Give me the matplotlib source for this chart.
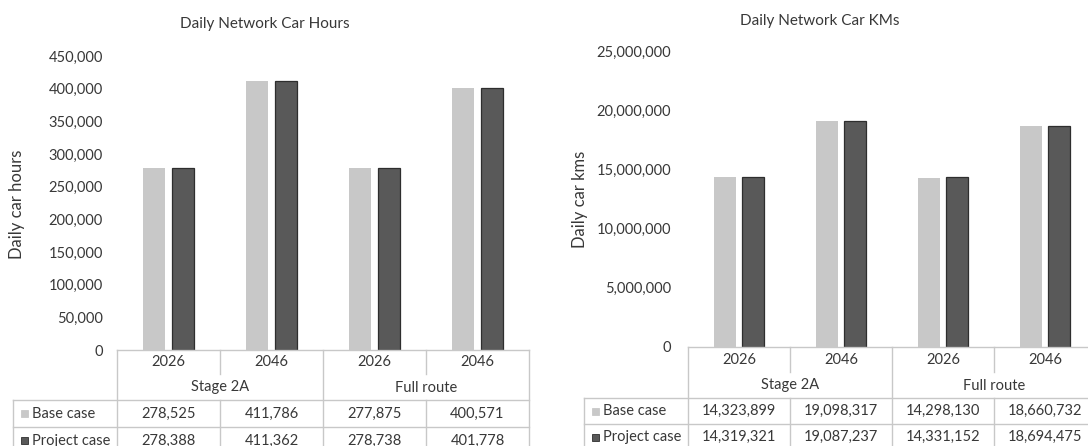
import matplotlib
matplotlib.use("Agg")
import matplotlib.pyplot as plt
from matplotlib import transforms
from matplotlib.patches import Rectangle
from matplotlib.ticker import FuncFormatter

# ---- data ----
groups = ["Stage 2A", "Full route"]
years = ["2026", "2046", "2026", "2046"]
series_names = ["Base case", "Project case"]

hours_base = [278525, 411786, 277875, 400571]
hours_project = [278388, 411362, 278738, 401778]
hours_ticks = [0, 50000, 100000, 150000, 200000, 250000, 300000, 350000, 400000, 450000]

kms_base = [14323899, 19098317, 14298130, 18660732]
kms_project = [14319321, 19087237, 14331152, 18694475]
kms_ticks = [0, 5000000, 10000000, 15000000, 20000000, 25000000]

# ---- style ----
W, H = 1088, 446
FONT = "Lato"
TXT = "#383838"
GRID = "#c8c8c8"
BASE_C = "#c8c8c8"
PROJ_C = "#595959"
PROJ_EDGE = "#2e2e2e"
FS = 10.5
FS_TITLE = 11
FS_YLABEL = 12

plt.rcParams["font.family"] = [FONT, "DejaVu Sans"]

fig = plt.figure(figsize=(W / 100, H / 100), dpi=100)


def fx(px):
    return px / W


def fy(py):
    return 1 - py / H


comma = FuncFormatter(lambda v, p: f"{int(round(v)):,}")


def panel(rect_px, base, proj, ticks, title, title_xy, ylabel, ylabel_xy,
          tick_pad_px, rows_px, label_left_px):
    left, top, right, bottom = rect_px
    ax = fig.add_axes([fx(left), fy(bottom), (right - left) / W, (bottom - top) / H])
    x = list(range(len(years)))
    off, bw = 0.138, 0.213
    ax.bar([i - off for i in x], base, width=bw, color=BASE_C, linewidth=0)
    ax.bar([i + off for i in x], proj, width=bw, color=PROJ_C,
           edgecolor=PROJ_EDGE, linewidth=0.9)
    ax.set_xlim(-0.5, len(years) - 0.5)
    ax.set_ylim(ticks[0], ticks[-1])
    ax.set_yticks(ticks)
    ax.yaxis.set_major_formatter(comma)
    ax.set_xticks([])
    ax.tick_params(axis="y", length=0, pad=tick_pad_px * 0.72, labelsize=FS,
                   labelcolor=TXT)
    for s in ax.spines.values():
        s.set_visible(False)

    fig.text(fx(title_xy[0]), fy(title_xy[1]), title, ha="center", va="center",
             fontsize=FS_TITLE, color=TXT)
    fig.text(fx(ylabel_xy[0]), fy(ylabel_xy[1]), ylabel, ha="center", va="center",
             rotation=90, fontsize=FS_YLABEL, color=TXT)

    # ---- data table under the plot ----
    y_top, y_year, y_group, y_base, y_end = rows_px
    bt = transforms.blended_transform_factory(ax.transData, fig.transFigure)
    lkw = dict(color=GRID, linewidth=1.0, clip_on=False)

    # horizontal rules
    fig.add_artist(plt.Line2D([fx(left), fx(right)], [fy(y_top)] * 2, **lkw))
    for yy in (y_group, y_base):
        fig.add_artist(plt.Line2D([fx(label_left_px), fx(right)], [fy(yy)] * 2, **lkw))
    # row-label column border
    fig.add_artist(plt.Line2D([fx(label_left_px)] * 2, [fy(y_group), fy(y_end)], **lkw))
    # group borders (full height)
    for xb in (-0.5, 1.5, 3.5):
        ax.add_line(plt.Line2D([xb, xb], [fy(y_top), fy(y_end)], transform=bt, **lkw))
    # year borders (year row and value rows only)
    for xb in (0.5, 2.5):
        ax.add_line(plt.Line2D([xb, xb], [fy(y_top), fy(y_year)], transform=bt, **lkw))
        ax.add_line(plt.Line2D([xb, xb], [fy(y_group), fy(y_end)], transform=bt, **lkw))

    yc_year = (y_top + y_year) / 2 + 0.5
    yc_group = (y_year + y_group) / 2 + 0.5
    yc_base = (y_group + y_base) / 2
    yc_proj = y_base + (y_base - y_group) / 2
    for i, yr in enumerate(years):
        ax.text(i, fy(yc_year), yr, transform=bt, ha="center", va="center",
                fontsize=FS, color=TXT, clip_on=False)
        ax.text(i, fy(yc_base), f"{base[i]:,}", transform=bt, ha="center",
                va="center", fontsize=FS, color=TXT, clip_on=False)
        ax.text(i, fy(yc_proj), f"{proj[i]:,}", transform=bt, ha="center",
                va="center", fontsize=FS, color=TXT, clip_on=False)
    for g, name in enumerate(groups):
        ax.text(2 * g + 0.5, fy(yc_group), name, transform=bt, ha="center",
                va="center", fontsize=FS, color=TXT, clip_on=False)

    # legend keys in the row-label column
    for yc, name, col, ec in ((yc_base, series_names[0], BASE_C, BASE_C),
                              (yc_proj, series_names[1], PROJ_C, PROJ_EDGE)):
        kx = label_left_px + 8
        fig.add_artist(Rectangle((fx(kx), fy(yc + 3.5)), 7 / W, 7 / H,
                                 transform=fig.transFigure, facecolor=col,
                                 edgecolor=ec, linewidth=0.6))
        fig.text(fx(kx + 11), fy(yc), name, ha="left", va="center",
                 fontsize=FS, color=TXT)
    return ax


panel((117, 56, 529, 350), hours_base, hours_project, hours_ticks,
      "Daily Network Car Hours", (265, 24), "Daily car hours", (17, 204),
      14, (350, 374, 400, 427, 460), 13)

panel((688, 51, 1096, 347), kms_base, kms_project, kms_ticks,
      "Daily Network Car KMs", (820, 21), "Daily car kms", (580, 199),
      17, (347, 372, 398, 424, 460), 584)

fig.savefig("out.png", dpi=100, facecolor="white")
